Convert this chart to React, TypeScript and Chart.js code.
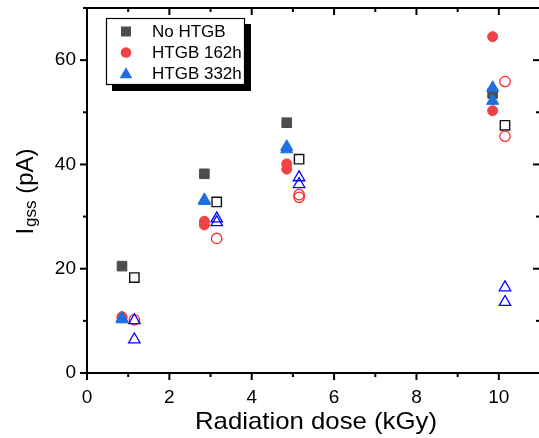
import React, { useEffect, useRef } from 'react';
import { Chart, registerables } from 'chart.js';

Chart.register(...registerables);

// ---- data ----
const dosesFilled = [0.85, 2.85, 4.85, 9.85];
const dosesOpen = [1.15, 3.15, 5.15, 10.15];

const noHtgbFilled = [20.5, 38.2, 48.0, 53.6];
const noHtgbOpen = [18.3, 32.8, 41.0, 47.5];

const htgb162FilledA = [10.8, 29.1, 40.1, 64.5];
const htgb162FilledB = [10.6, 28.4, 39.1, 50.3];
const htgb162OpenA = [10.2, 25.8, 34.2, 55.9];
const htgb162OpenB: (number | null)[] = [null, null, 33.7, 45.4];

const htgb332FilledA = [10.5, 33.2, 43.4, 54.7];
const htgb332FilledB = [10.3, 33.0, 42.9, 52.2];
const htgb332OpenA = [10.1, 29.6, 37.5, 16.4];
const htgb332OpenB = [6.4, 28.9, 36.2, 13.6];

const xTicks = [0, 2, 4, 6, 8, 10];
const yTicks = [0, 20, 40, 60];
const legendLabels = ['No HTGB', 'HTGB 162h', 'HTGB 332h'];
const xTitle = 'Radiation dose (kGy)';
const yTitleMain = 'I';
const yTitleSub = 'gss';
const yTitleUnit = ' (pA)';

const FONT = '"Liberation Sans", Arial, sans-serif';

const COL_SQ = '#4d4d4d';
const COL_CIRC = '#ef4343';
const COL_TRI = '#1f6fe0';
const COL_OPEN_SQ = '#111111';
const COL_OPEN_CIRC = '#ff2a2a';
const COL_OPEN_TRI = '#0000ff';

function pts(xs: number[], ...series: (number | null)[][]) {
  const out: { x: number; y: number }[] = [];
  series.forEach((s) =>
    s.forEach((v, i) => {
      if (v !== null && v !== undefined) out.push({ x: xs[i], y: v });
    })
  );
  return out;
}

const axesPlugin = {
  id: 'customAxes',
  afterDraw(chart: any) {
    const { ctx, chartArea, scales } = chart;
    const { left, right, top, bottom } = chartArea;
    const xs = scales.x;
    const ys = scales.y;
    ctx.save();
    ctx.strokeStyle = '#000';
    ctx.lineWidth = 2;
    ctx.lineCap = 'butt';
    const line = (x1: number, y1: number, x2: number, y2: number) => {
      ctx.beginPath();
      ctx.moveTo(x1, y1);
      ctx.lineTo(x2, y2);
      ctx.stroke();
    };
    ctx.beginPath();
    ctx.rect(left, top, right - left, bottom - top);
    ctx.stroke();
    for (let v = 0; v <= 11; v++) {
      const px = xs.getPixelForValue(v);
      const major = v % 2 === 0;
      const len = major ? 7 : 4;
      line(px, bottom, px, bottom + len);
      line(px, top, px, top + len);
    }
    for (let v = 0; v <= 70; v += 10) {
      const py = ys.getPixelForValue(v);
      const major = v % 20 === 0;
      const len = major ? 7 : 4;
      line(left - len, py, left, py);
      line(right, py, right - len, py);
    }

    // x title
    ctx.fillStyle = '#000';
    ctx.font = `24px ${FONT}`;
    ctx.textBaseline = 'alphabetic';
    ctx.textAlign = 'center';
    const w = ctx.measureText(xTitle).width;
    const sx = 242 / w;
    ctx.save();
    ctx.translate(316, 429);
    ctx.scale(sx, 1);
    ctx.fillText(xTitle, 0, 0);
    ctx.restore();

    // y title with subscript
    ctx.textAlign = 'left';
    ctx.font = `24px ${FONT}`;
    const wMain = ctx.measureText(yTitleMain).width;
    const wUnit = ctx.measureText(yTitleUnit).width;
    ctx.font = `17px ${FONT}`;
    const wSub = ctx.measureText(yTitleSub).width;
    const total = wMain + 1 + wSub + wUnit;
    const cy = (top + bottom) / 2 + 1;
    ctx.save();
    ctx.translate(33, cy + total / 2);
    ctx.rotate(-Math.PI / 2);
    ctx.font = `24px ${FONT}`;
    ctx.fillText(yTitleMain, 0, 0);
    ctx.font = `17px ${FONT}`;
    ctx.fillText(yTitleSub, wMain + 1, 3);
    ctx.font = `24px ${FONT}`;
    ctx.fillText(yTitleUnit, wMain + 1 + wSub, 0);
    ctx.restore();

    // legend
    const bx = 106, by = 18, bw = 139, bh = 67;
    ctx.fillStyle = '#000';
    ctx.fillRect(bx + 6, by + 6, bw, bh);
    ctx.fillStyle = '#fff';
    ctx.fillRect(bx, by, bw, bh);
    ctx.lineWidth = 1.2;
    ctx.strokeStyle = '#000';
    ctx.strokeRect(bx + 0.5, by + 0.5, bw - 1, bh - 1);
    const mx = 126;
    const rows = [31.5, 52.5, 74];
    ctx.fillStyle = COL_SQ;
    ctx.fillRect(mx - 5, rows[0] - 5, 10, 10);
    ctx.fillStyle = COL_CIRC;
    ctx.beginPath();
    ctx.arc(mx, rows[1], 5.3, 0, Math.PI * 2);
    ctx.fill();
    ctx.fillStyle = COL_TRI;
    const r = 7.3;
    const ty = rows[2] + 0.5;
    ctx.beginPath();
    ctx.moveTo(mx, ty - r);
    ctx.lineTo(mx + r * 0.866, ty + r * 0.5);
    ctx.lineTo(mx - r * 0.866, ty + r * 0.5);
    ctx.closePath();
    ctx.fill();
    ctx.fillStyle = '#000';
    ctx.font = `17px ${FONT}`;
    ctx.textBaseline = 'middle';
    ctx.textAlign = 'left';
    legendLabels.forEach((l, i) => ctx.fillText(l, 152, rows[i] + 0.5));
    ctx.restore();
  },
};

const zeroPad = (s: any) => {
  s.paddingTop = 0;
  s.paddingBottom = 0;
  s.paddingLeft = 0;
  s.paddingRight = 0;
};

export default function App() {
  const ref = useRef<HTMLCanvasElement | null>(null);
  useEffect(() => {
    if (!ref.current) return;
    const chart = new Chart(ref.current, {
      type: 'scatter',
      data: {
        datasets: [
          {
            label: 'No HTGB',
            data: pts(dosesFilled, noHtgbFilled),
            pointStyle: 'rect',
            pointRadius: 6.8,
            backgroundColor: COL_SQ,
            borderColor: COL_SQ,
            borderWidth: 1,
            order: 6,
          },
          {
            label: 'No HTGB (open)',
            data: pts(dosesOpen, noHtgbOpen),
            pointStyle: 'rect',
            pointRadius: 6.6,
            backgroundColor: 'rgba(0,0,0,0)',
            borderColor: COL_OPEN_SQ,
            borderWidth: 1.4,
            order: 5,
          },
          {
            label: 'HTGB 162h',
            data: pts(dosesFilled, htgb162FilledA, htgb162FilledB),
            pointStyle: 'circle',
            pointRadius: 5,
            backgroundColor: COL_CIRC,
            borderColor: COL_CIRC,
            borderWidth: 1,
            order: 4,
          },
          {
            label: 'HTGB 162h (open)',
            data: pts(dosesOpen, htgb162OpenA, htgb162OpenB),
            pointStyle: 'circle',
            pointRadius: 5.2,
            backgroundColor: 'rgba(0,0,0,0)',
            borderColor: COL_OPEN_CIRC,
            borderWidth: 1.3,
            order: 3,
          },
          {
            label: 'HTGB 332h',
            data: pts(dosesFilled, htgb332FilledA, htgb332FilledB),
            pointStyle: 'triangle',
            pointRadius: 7,
            backgroundColor: COL_TRI,
            borderColor: COL_TRI,
            borderWidth: 1,
            order: 2,
          },
          {
            label: 'HTGB 332h (open)',
            data: pts(dosesOpen, htgb332OpenA, htgb332OpenB),
            pointStyle: 'triangle',
            pointRadius: 6.6,
            backgroundColor: 'rgba(0,0,0,0)',
            borderColor: COL_OPEN_TRI,
            borderWidth: 1.3,
            order: 1,
          },
        ],
      },
      options: {
        animation: false,
        responsive: false,
        maintainAspectRatio: false,
        events: [],
        layout: { padding: { left: 0, top: 5, right: 2, bottom: 0 } },
        plugins: { legend: { display: false }, tooltip: { enabled: false } },
        scales: {
          x: {
            type: 'linear',
            min: 0,
            max: 11,
            grid: { display: false, drawTicks: false },
            border: { display: false },
            afterBuildTicks: (s: any) => {
              s.ticks = xTicks.map((v) => ({ value: v }));
            },
            afterFit: (s: any) => {
              s.height = 65;
              zeroPad(s);
            },
            ticks: {
              padding: 13,
              color: '#000',
              maxRotation: 0,
              autoSkip: false,
              font: { family: FONT, size: 19 },
            },
          },
          y: {
            type: 'linear',
            min: 0,
            max: 70,
            grid: { display: false, drawTicks: false },
            border: { display: false },
            afterBuildTicks: (s: any) => {
              s.ticks = yTicks.map((v) => ({ value: v }));
            },
            afterFit: (s: any) => {
              s.width = 87;
              zeroPad(s);
            },
            ticks: {
              padding: 11,
              color: '#000',
              autoSkip: false,
              font: { family: FONT, size: 19 },
            },
          },
        },
      } as any,
      plugins: [axesPlugin],
    });
    return () => chart.destroy();
  }, []);
  return (
    <div
      style={{
        position: 'absolute',
        left: 0,
        top: 0,
        width: 539,
        height: 438,
        overflow: 'hidden',
        background: '#fff',
      }}
    >
      <canvas ref={ref} width={548} height={438} style={{ display: 'block' }} />
    </div>
  );
}
